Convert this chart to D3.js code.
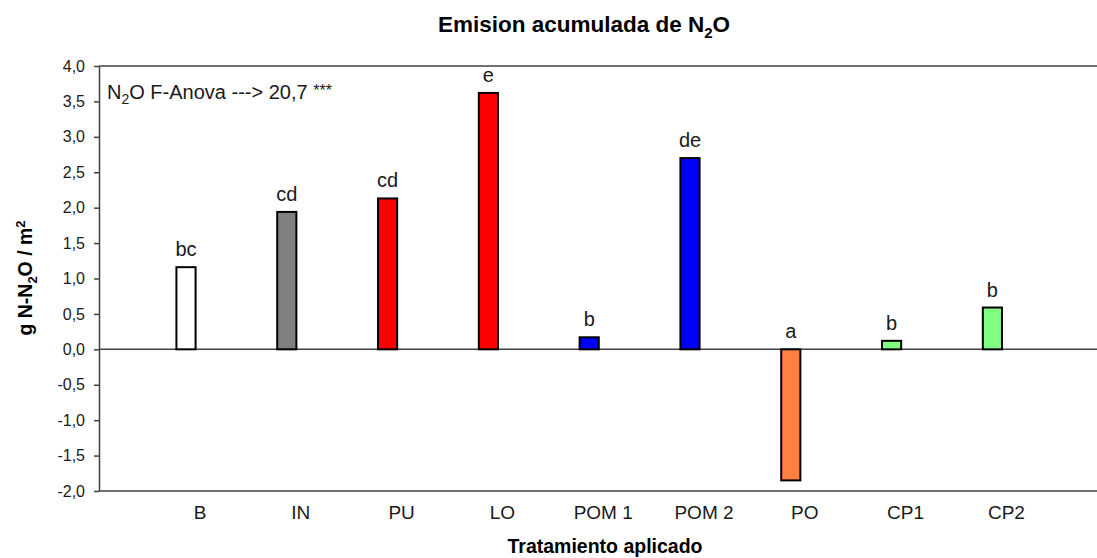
<!DOCTYPE html>
<html>
<head>
<meta charset="utf-8">
<script src="https://cdn.jsdelivr.net/npm/d3@7"></script>
<style>
	body { margin: 0; background: #fff; }
	svg { display: block; font-family: "Liberation Sans", Arial, sans-serif; }
</style>
</head>
<body>
<svg id="chart" width="1097" height="558"></svg>
<script>
'use strict'

// treatments and accumulated N2O emission (g N-N2O / m2)
const TREATMENTS = ['B', 'IN', 'PU', 'LO', 'POM 1', 'POM 2', 'PO', 'CP1', 'CP2'];
const EMISSION = [1.16, 1.94, 2.13, 3.62, 0.17, 2.70, -1.85, 0.12, 0.59];
const LETTERS = ['bc', 'cd', 'cd', 'e', 'b', 'de', 'a', 'b', 'b'];
const BAR_COLORS = ['#ffffff', '#808080', '#ff0000', '#ff0000', '#0000ff', '#0000ff', '#ff8040', '#80ff80', '#80ff80'];
const Y_TICKS = [-2, -1.5, -1, -0.5, 0, 0.5, 1, 1.5, 2, 2.5, 3, 3.5, 4];

var chartW = 1097;

var plotLeft = 99;
var plotTop = 66;
var plotBottom = 491;
var axisColor = '#404040';
var textColor = '#1a1a1a';

var svg = d3.select('#chart');

var locale = d3.formatLocale({ decimal: ',', thousands: '.', grouping: [3], currency: ['', ''], minus: '-' });
var fmt = locale.format('.1f');

var y = d3.scaleLinear()
	.domain([-2, 4])
	.range([plotBottom, plotTop]);

var step = 100.8;
var x = d3.scaleBand()
	.domain(TREATMENTS)
	.range([186 - step / 2, 186 - step / 2 + step * TREATMENTS.length])
	.paddingInner(0.81)
	.paddingOuter(0.405);

// frame lines: top, bottom, zero
svg.append('line')
	.attr('x1', plotLeft).attr('x2', chartW)
	.attr('y1', plotTop).attr('y2', plotTop)
	.attr('stroke', axisColor).attr('stroke-width', 1.5);

svg.append('line')
	.attr('x1', plotLeft).attr('x2', chartW)
	.attr('y1', plotBottom).attr('y2', plotBottom)
	.attr('stroke', axisColor).attr('stroke-width', 1.5);

svg.append('line')
	.attr('x1', plotLeft).attr('x2', chartW)
	.attr('y1', y(0)).attr('y2', y(0))
	.attr('stroke', axisColor).attr('stroke-width', 1.5);

// y axis
var yAxis = svg.append('g')
	.attr('transform', 'translate(' + plotLeft + ',0)')
	.call(d3.axisLeft(y)
		.tickValues(Y_TICKS)
		.tickSize(5)
		.tickSizeOuter(0)
		.tickPadding(9)
		.tickFormat(fmt));

yAxis.select('.domain').attr('stroke', axisColor).attr('stroke-width', 1.5);
yAxis.selectAll('.tick line').attr('stroke', axisColor).attr('stroke-width', 1.5);
yAxis.selectAll('.tick text')
	.attr('fill', textColor)
	.style('font-size', '16px')
	.style('font-family', '"Liberation Sans", Arial, sans-serif');

// x axis (labels sit a bit right of the bars, as in the original)
var xAxis = svg.append('g')
	.attr('transform', 'translate(' + 14 + ',' + plotBottom + ')')
	.call(d3.axisBottom(x).tickSize(0).tickPadding(14.5));

xAxis.select('.domain').remove();
xAxis.selectAll('.tick text')
	.attr('fill', textColor)
	.style('font-size', '19px')
	.style('font-family', '"Liberation Sans", Arial, sans-serif');

// bars
svg.append('g')
	.selectAll('rect')
	.data(EMISSION)
	.enter()
	.append('rect')
	.attr('x', function(d, i) { return x(TREATMENTS[i]); })
	.attr('width', x.bandwidth())
	.attr('y', function(d) { return y(Math.max(d, 0)); })
	.attr('height', function(d) { return Math.abs(y(d) - y(0)); })
	.attr('fill', function(d, i) { return BAR_COLORS[i]; })
	.attr('stroke', '#000')
	.attr('stroke-width', 2);

// significance letters
svg.append('g')
	.selectAll('text')
	.data(LETTERS)
	.enter()
	.append('text')
	.attr('x', function(d, i) { return x(TREATMENTS[i]) + x.bandwidth() / 2; })
	.attr('y', function(d, i) { return y(Math.max(EMISSION[i], 0)) - 11; })
	.attr('text-anchor', 'middle')
	.attr('fill', textColor)
	.style('font-size', '20px')
	.text(function(d) { return d; });

// title
var title = svg.append('text')
	.attr('x', 584)
	.attr('y', 32)
	.attr('text-anchor', 'middle')
	.style('font-size', '22.5px')
	.style('font-weight', 'bold');
title.append('tspan').text('Emision acumulada de N');
title.append('tspan').attr('dy', 6).style('font-size', '15px').text('2');
title.append('tspan').attr('dy', -6).text('O');

// anova note
var note = svg.append('text')
	.attr('x', 107)
	.attr('y', 99)
	.attr('fill', textColor)
	.style('font-size', '20px');
note.append('tspan').text('N');
note.append('tspan').attr('dy', 5).style('font-size', '14px').text('2');
note.append('tspan').attr('dy', -5).text('O F-Anova ---> 20,7 ');
note.append('tspan').attr('dy', -3).style('font-size', '16px').text('***');

// y title
var yTitle = svg.append('text')
	.attr('transform', 'translate(32,278) rotate(-90)')
	.attr('text-anchor', 'middle')
	.style('font-size', '19.5px')
	.style('font-weight', 'bold');
yTitle.append('tspan').text('g N-N');
yTitle.append('tspan').attr('dy', 5).style('font-size', '13px').text('2');
yTitle.append('tspan').attr('dy', -5).text('O / m');
yTitle.append('tspan').attr('dy', -7).style('font-size', '13px').text('2');

// x title
svg.append('text')
	.attr('x', 605)
	.attr('y', 553)
	.attr('text-anchor', 'middle')
	.style('font-size', '19.5px')
	.style('font-weight', 'bold')
	.text('Tratamiento aplicado');
</script>
</body>
</html>
